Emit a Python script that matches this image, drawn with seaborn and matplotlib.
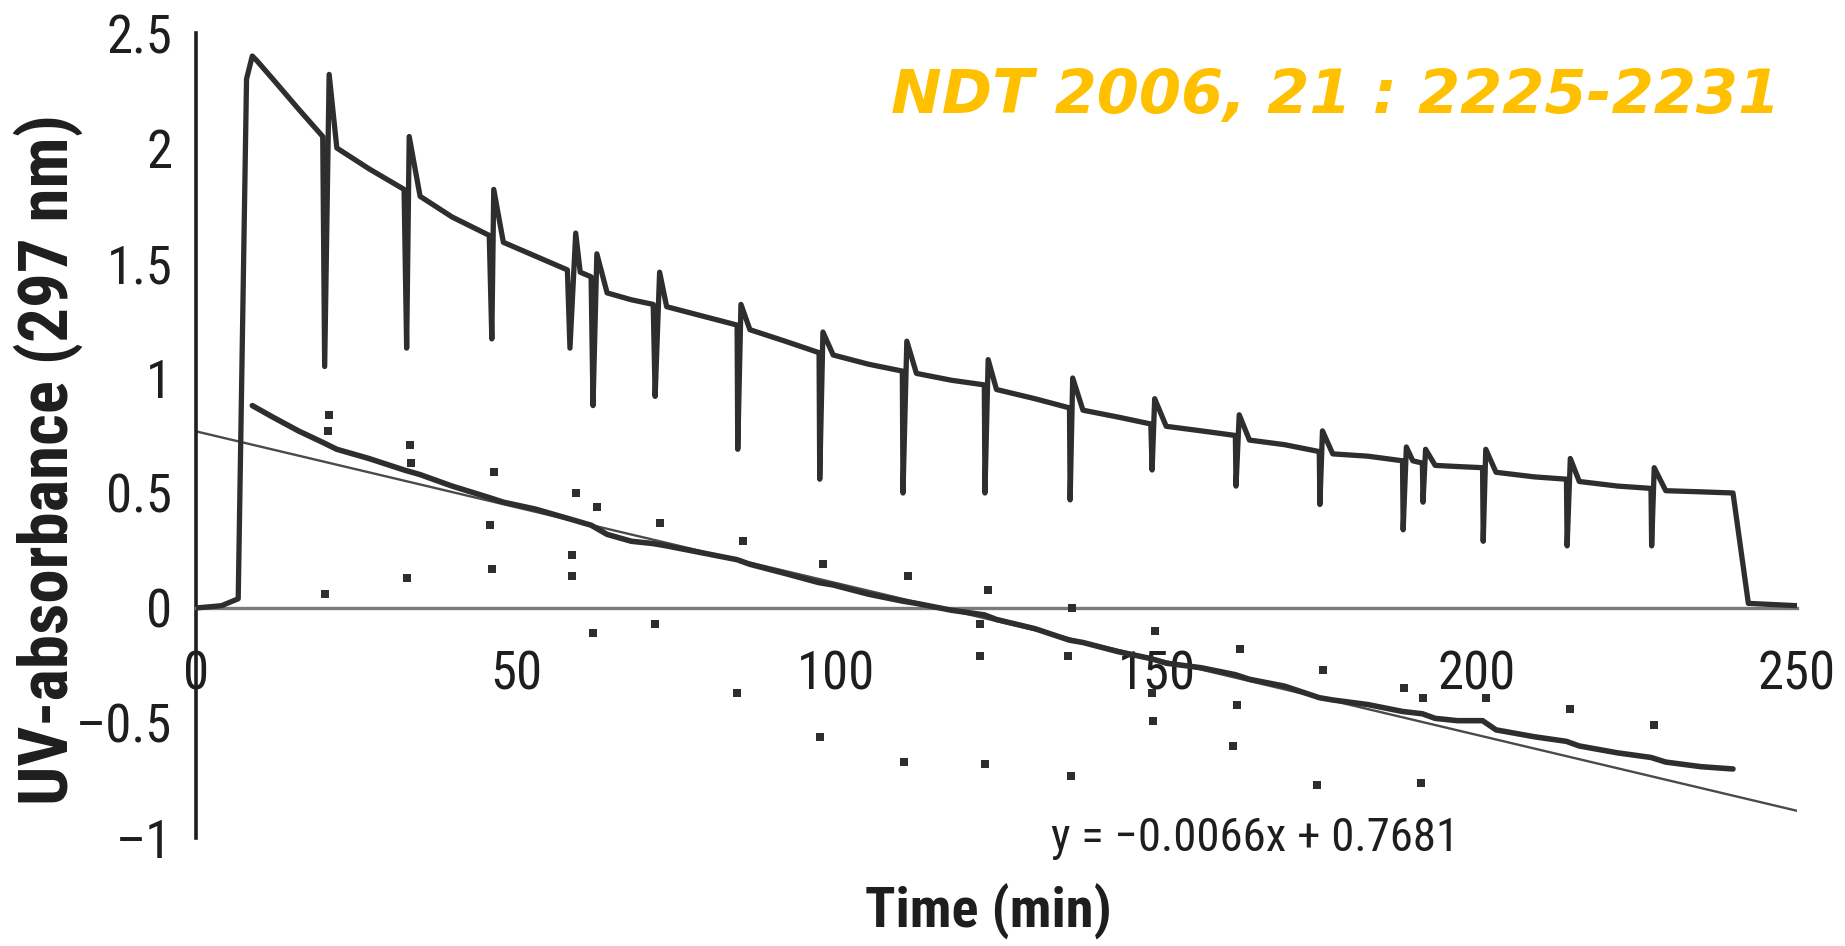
import matplotlib
matplotlib.use("Agg")
import numpy as np
import pandas as pd
import matplotlib.pyplot as plt
from matplotlib import font_manager
import seaborn as sns

# ---- data -------------------------------------------------------------
# UV-absorbance trace between sampling artefacts (time in min)
base_time = [0, 4, 6.6, 7.9, 8.8, 9.5, 12, 16, 19.8, 22, 27, 32.5, 35, 40, 45.8,
             48, 53, 58, 60, 61.7, 64.2, 68, 71.4, 73.5, 79, 84.5, 86.5, 92,
             97.3, 99.5, 105, 110.3, 112.5, 118, 123.1, 125, 131, 136.4, 138.5,
             144, 149.1, 151.5, 157, 162.3, 164.5, 170, 175.4, 177.5, 183,
             188.4, 190, 191.5, 193.5, 197, 200.9, 203, 209, 214, 216, 222,
             227.2, 229.5, 235, 240, 242.4, 250]
base_abs = [0.0, 0.01, 0.04, 2.30, 2.40, 2.38, 2.30, 2.17, 2.05, 2.00, 1.91,
            1.82, 1.79, 1.70, 1.62, 1.59, 1.53, 1.47, 1.46, 1.44, 1.37, 1.34,
            1.32, 1.31, 1.27, 1.23, 1.21, 1.16, 1.11, 1.10, 1.06, 1.03, 1.02,
            0.99, 0.97, 0.95, 0.91, 0.87, 0.86, 0.83, 0.80, 0.79, 0.77, 0.75,
            0.73, 0.71, 0.68, 0.67, 0.66, 0.64, 0.64, 0.63, 0.62, 0.615, 0.61,
            0.59, 0.57, 0.56, 0.55, 0.53, 0.52, 0.51, 0.505, 0.50, 0.02, 0.01]

# downward and upward excursions at each blood sampling
dip_time = [20.1, 32.9, 46.2, 58.4, 62.0, 71.7, 84.6, 97.4, 110.4, 123.2,
            136.5, 149.3, 162.4, 175.5, 188.5, 191.6, 201.0, 214.1, 227.3]
dip_abs = [1.05, 1.13, 1.17, 1.13, 0.88, 0.92, 0.69, 0.56, 0.50, 0.50,
           0.47, 0.60, 0.53, 0.45, 0.34, 0.46, 0.29, 0.27, 0.27]
peak_time = [20.8, 33.3, 46.5, 59.3, 62.6, 72.4, 85.1, 97.9, 111.0, 123.7,
             136.9, 149.7, 162.9, 175.9, 189.0, 192.0, 201.4, 214.6, 227.7]
peak_abs = [2.32, 2.05, 1.82, 1.63, 1.54, 1.46, 1.32, 1.20, 1.16, 1.08,
            1.00, 0.91, 0.84, 0.77, 0.70, 0.69, 0.69, 0.65, 0.61]

# log-transformed absorbance
ln_time = [8.8, 12, 16, 19.8, 22, 27, 32.5, 35, 40, 45.8, 48, 53, 58, 61.7,
           64.2, 68, 71.4, 73.5, 79, 84.5, 86.5, 92, 97.3, 99.5, 105, 110.3,
           112.5, 118, 123.1, 125, 131, 136.4, 138.5, 144, 149.1, 151.5, 157,
           162.3, 164.5, 170, 175.4, 177.5, 183, 188.4, 191.5, 193.5, 197,
           200.9, 203, 209, 214, 216, 222, 227.2, 229.5, 235, 240]
ln_abs = [0.88, 0.83, 0.77, 0.72, 0.69, 0.65, 0.60, 0.58, 0.53, 0.48, 0.46,
          0.43, 0.39, 0.36, 0.32, 0.29, 0.28, 0.27, 0.24, 0.21, 0.19, 0.15,
          0.11, 0.10, 0.06, 0.03, 0.02, -0.01, -0.03, -0.05, -0.09, -0.14,
          -0.15, -0.19, -0.22, -0.24, -0.26, -0.29, -0.31, -0.34, -0.39,
          -0.40, -0.42, -0.45, -0.46, -0.48, -0.49, -0.49, -0.53, -0.56,
          -0.58, -0.60, -0.63, -0.65, -0.67, -0.69, -0.70]

# isolated log samples taken during the excursions
ln_dot_time = [20.8, 20.6, 20.1, 33.4, 33.6, 33.0, 46.5, 45.9, 46.2, 59.3,
               58.7, 58.7, 62.6, 62.0, 72.5, 71.7, 85.4, 84.5, 97.9, 97.4,
               111.2, 110.5, 123.7, 122.4, 122.4, 123.2, 136.8, 136.2, 136.6,
               149.7, 149.3, 149.5, 163.0, 162.5, 162.0, 176.0, 175.0, 188.7,
               191.6, 191.3, 201.5, 214.6, 227.6]
ln_dot_abs = [0.84, 0.77, 0.06, 0.71, 0.63, 0.13, 0.59, 0.36, 0.17, 0.50,
              0.23, 0.14, 0.44, -0.11, 0.37, -0.07, 0.29, -0.37, 0.19, -0.56,
              0.14, -0.67, 0.08, -0.07, -0.21, -0.68, 0.00, -0.21, -0.73,
              -0.10, -0.37, -0.49, -0.18, -0.42, -0.60, -0.27, -0.77, -0.35,
              -0.39, -0.76, -0.39, -0.44, -0.51]

# linear fit of the log trace
fit_slope = -0.0066
fit_intercept = 0.7681
fit_range = [0, 250]

x_ticks = [0, 50, 100, 150, 200, 250]
x_tick_labels = ["0", "50", "100", "150", "200", "250"]
y_ticks = [2.5, 2, 1.5, 1, 0.5, 0, -0.5, -1]
y_tick_labels = ["2.5", "2", "1.5", "1", "0.5", "0", "\u20130.5", "\u20131"]

x_label = "Time (min)"
y_label = "UV-absorbance (297 nm)"
fit_label = "y = \u22120.0066x + 0.7681"
reference_note = "NDT 2006, 21 : 2225-2231"

# ---- fonts ------------------------------------------------------------
sns.set_style("white")
available = {f.name for f in font_manager.fontManager.ttflist}


def pick(candidates):
    for c in candidates:
        if c in available:
            return c
    return "DejaVu Sans"


narrow = pick(["Liberation Sans Narrow", "Roboto Condensed",
               "Open Sans Condensed", "DejaVu Sans"])
plt.rcParams["font.family"] = [narrow, "DejaVu Sans"]

# ---- assemble the trace -------------------------------------------------
trace = pd.DataFrame({
    "time": base_time + dip_time + peak_time,
    "absorbance": base_abs + dip_abs + peak_abs,
}).sort_values("time", kind="stable").reset_index(drop=True)
log_line = pd.DataFrame({"time": ln_time, "absorbance": ln_abs})
log_dots = pd.DataFrame({"time": ln_dot_time, "absorbance": ln_dot_abs})
fit_x = np.array(fit_range, dtype=float)
fit_df = pd.DataFrame({"time": fit_x,
                       "absorbance": fit_slope * fit_x + fit_intercept})

# ---- figure -----------------------------------------------------------
fig = plt.figure(figsize=(18.45, 9.46), dpi=100)
ax = fig.add_axes([0.1062, 0.1142, 0.8678, 0.8509])

ink = "#2e2e2e"
sns.lineplot(data=fit_df, x="time", y="absorbance", ax=ax, color="#4a4a4a",
             lw=1.7, sort=False, estimator=None, zorder=2)
sns.lineplot(data=log_line, x="time", y="absorbance", ax=ax, color=ink,
             lw=4.0, sort=False, estimator=None, zorder=3)
sns.scatterplot(data=log_dots, x="time", y="absorbance", ax=ax, color=ink,
                marker="s", s=26, linewidth=0, zorder=3)
sns.lineplot(data=trace, x="time", y="absorbance", ax=ax, color=ink,
             lw=3.8, sort=False, estimator=None, zorder=4)

ax.set_xlim(0, 250)
ax.set_ylim(-1, 2.5)

for side in ("top", "right"):
    ax.spines[side].set_visible(False)
ax.spines["bottom"].set_position(("data", 0))
ax.spines["bottom"].set_color("#7a7a7a")
ax.spines["bottom"].set_linewidth(2.4)
ax.spines["left"].set_color("#1e1e1e")
ax.spines["left"].set_linewidth(2.6)

ax.set_xticks(x_ticks)
ax.set_xticklabels(x_tick_labels)
ax.set_yticks(y_ticks)
ax.set_yticklabels(y_tick_labels)
ax.tick_params(axis="x", direction="out", length=12, width=2,
               color="#333333", pad=18, labelsize=38, labelcolor="#1e1e1e")
ax.tick_params(axis="y", direction="out", length=10, width=1.8,
               color="#555555", pad=7, labelsize=38, labelcolor="#1e1e1e")

ax.set_xlabel(x_label, fontsize=34, fontweight="bold", color="#1e1e1e")
ax.set_ylabel(y_label, fontsize=40, fontweight="bold", color="#1e1e1e")
ax.xaxis.set_label_coords(0.495, -0.092)
ax.yaxis.set_label_coords(-0.092, 0.47)
ax.xaxis.label.set_va("center")
ax.yaxis.label.set_va("center")

eq = ax.text(133.5, -1.0, fit_label, fontsize=30, color="#1e1e1e",
             ha="left", va="center")
note = fig.text(891 / 1845, 1 - 97 / 946, reference_note, fontsize=42,
                color="#FFC000", fontweight="bold", fontstyle="italic",
                family="DejaVu Sans", ha="left", va="center")

# scale the free texts to their target lengths (pixels)
fig.canvas.draw()
renderer = fig.canvas.get_renderer()
for obj, target in ((ax.yaxis.label, 690), (ax.xaxis.label, 247),
                    (eq, 408), (note, 892)):
    ext = obj.get_window_extent(renderer)
    length = max(ext.width, ext.height)
    obj.set_fontsize(obj.get_fontsize() * target / length)

fig.savefig("out.png", dpi=100, facecolor="white")
